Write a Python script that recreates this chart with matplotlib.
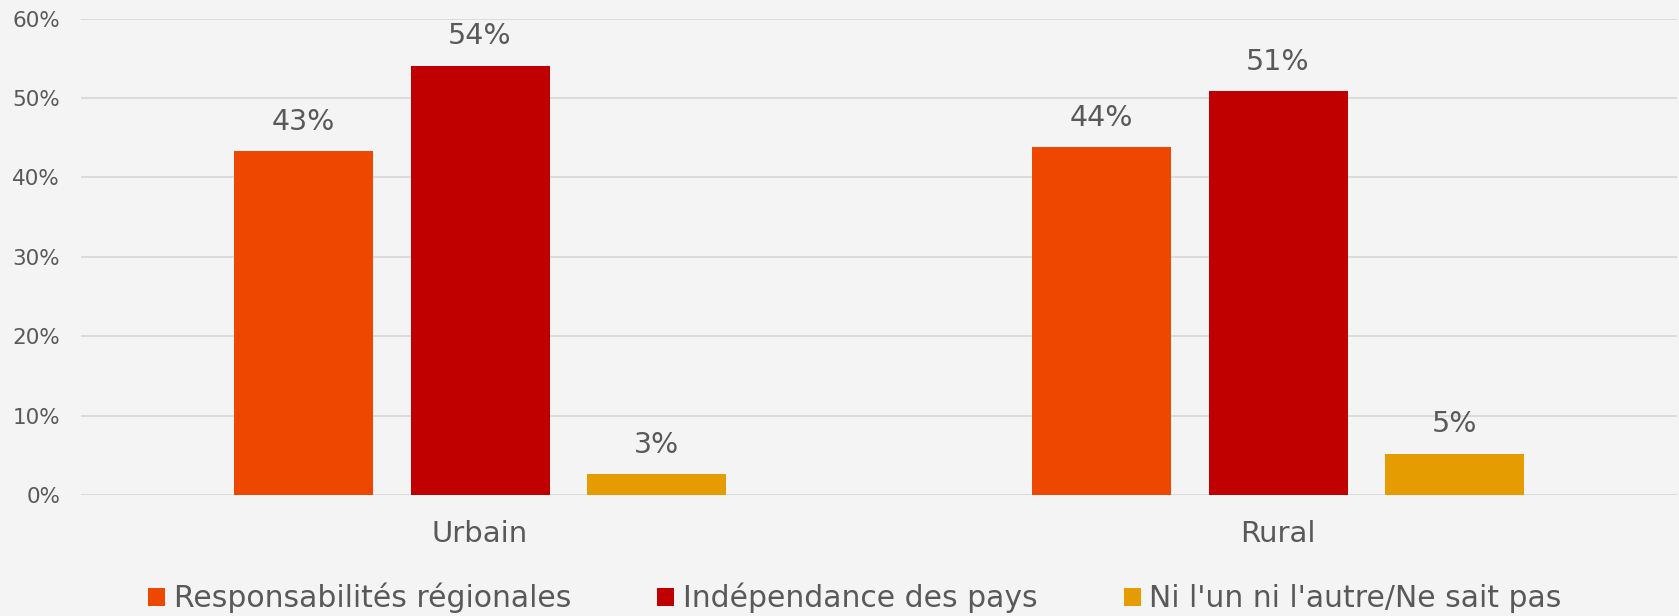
import matplotlib
matplotlib.use("Agg")
import matplotlib.pyplot as plt
from matplotlib.patches import Patch
import numpy as np

categories = ["Urbain", "Rural"]
series_names = ["Responsabilités régionales", "Indépendance des pays", "Ni l'un ni l'autre/Ne sait pas"]
responsabilites = [43.3, 43.8]
independance = [54.1, 50.9]
ni_lun = [2.6, 5.2]
labels_resp = ["43%", "44%"]
labels_indep = ["54%", "51%"]
labels_ni = ["3%", "5%"]
yticks = [0, 10, 20, 30, 40, 50, 60]
ytick_labels = ["0%", "10%", "20%", "30%", "40%", "50%", "60%"]

colors = ["#EE4800", "#C00000", "#E59C00"]
bg = "#F4F4F4"
text_color = "#595959"

W, H = 1679, 616
fig = plt.figure(figsize=(W / 100, H / 100), dpi=100, facecolor=bg)
ax_left, ax_right = 81 / W, 1677 / W
ax_bottom, ax_top = 1 - 495 / H, 1 - 18.7 / H
ax = fig.add_axes([ax_left, ax_bottom, ax_right - ax_left, ax_top - ax_bottom])
ax.set_facecolor(bg)

x = np.arange(len(categories))
bar_w = 139 / 798
step = 176.7 / 798

all_series = [responsabilites, independance, ni_lun]
all_labels = [labels_resp, labels_indep, labels_ni]
for i, (vals, labs) in enumerate(zip(all_series, all_labels)):
    pos = x + (i - 1) * step
    bars = ax.bar(pos, vals, width=bar_w, color=colors[i], zorder=3, label=series_names[i])
    for b, lab in zip(bars, labs):
        ax.annotate(lab, (b.get_x() + b.get_width() / 2, b.get_height()),
                    xytext=(0, 11), textcoords="offset points",
                    ha="center", va="bottom", fontsize=20.5, color=text_color)

ax.set_xlim(-0.5, 1.5)
ax.set_ylim(0, 60)
ax.set_yticks(yticks)
ax.set_yticklabels(ytick_labels)
ax.set_xticks(x)
ax.set_xticklabels(categories)
ax.yaxis.grid(True, color="#D9D9D9", linewidth=1.3, zorder=0)
ax.set_axisbelow(True)
for s in ax.spines.values():
    s.set_visible(False)
ax.tick_params(axis="y", length=0, pad=15, labelsize=15.5, labelcolor=text_color)
ax.tick_params(axis="x", length=0, pad=18, labelsize=21, labelcolor=text_color)

handles = [Patch(facecolor=c, edgecolor="none") for c in colors]
leg = fig.legend(handles, series_names, loc="center",
                 bbox_to_anchor=(855 / W, 1 - 598 / H), ncol=3, frameon=False,
                 fontsize=21.5, handlelength=0.55, handleheight=0.55,
                 handletextpad=0.3, columnspacing=2.9, labelcolor=text_color)

fig.savefig("out.png", dpi=100, facecolor=bg)
